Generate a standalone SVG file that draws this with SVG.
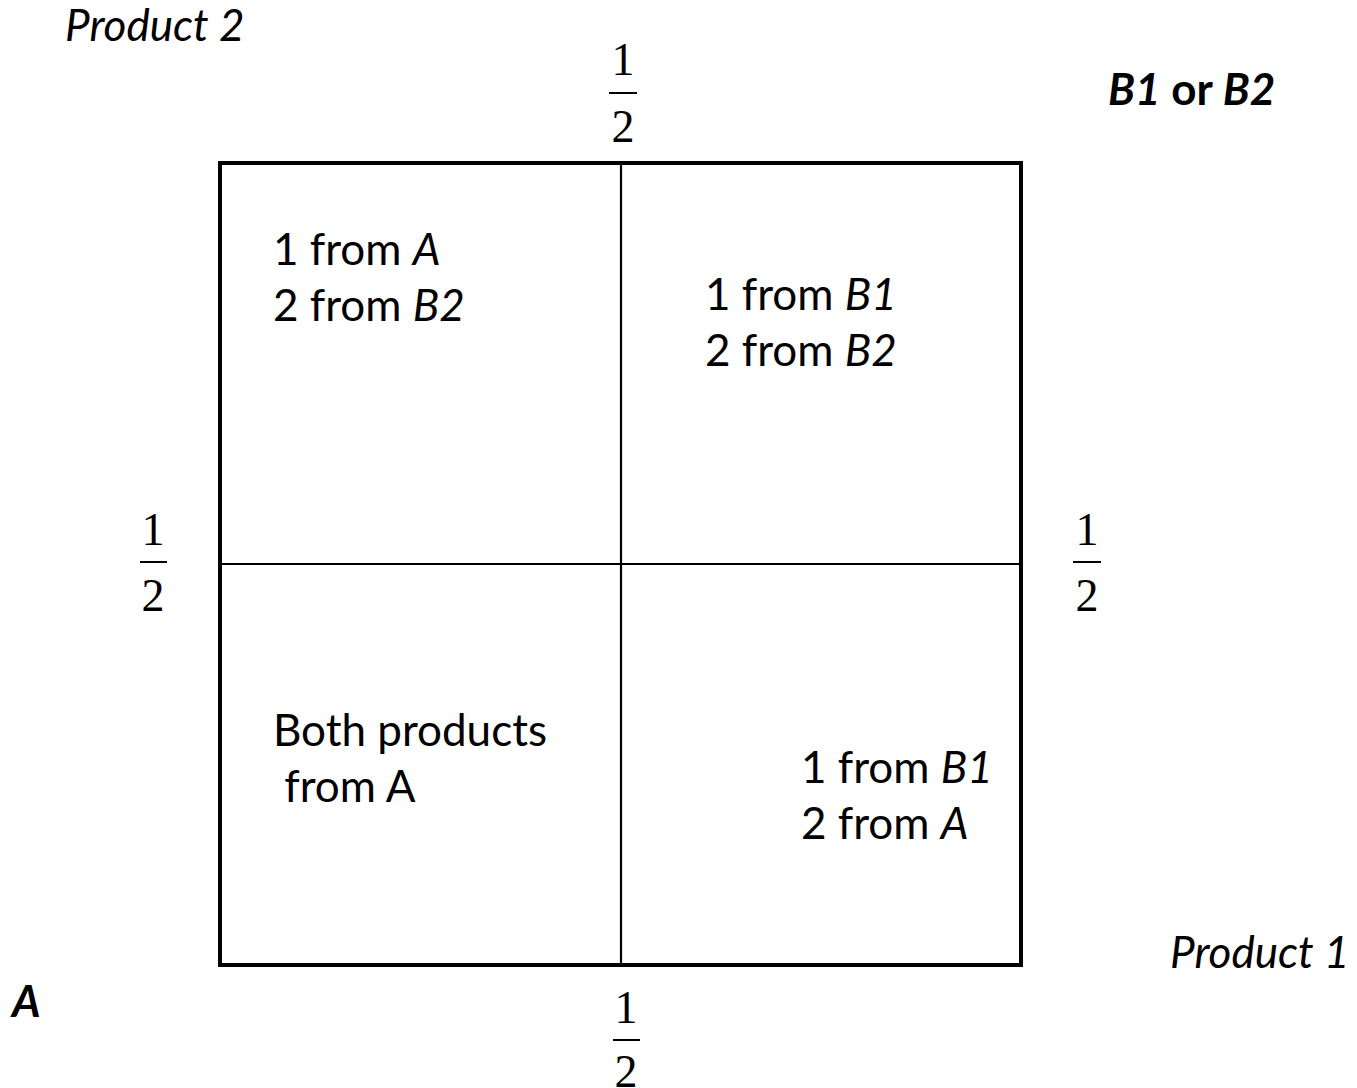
<svg xmlns="http://www.w3.org/2000/svg" width="1357" height="1088" viewBox="0 0 1357 1088">
<style>
.t{font-family:Lato,"Open Sans","Liberation Sans",sans-serif;font-size:44px;fill:#000}
.f{font-family:"Liberation Serif","Times New Roman",serif;font-size:46px;fill:#000;text-anchor:middle}
.fl{stroke:#000;stroke-width:2}
.it{font-style:italic}
.b{font-weight:bold}
</style>
<rect width="1357" height="1088" fill="#fff"/>
<g id="grid">
<rect x="220" y="163" width="801" height="802" fill="none" stroke="#000" stroke-width="4"/>
<line x1="621" y1="163" x2="621" y2="965" stroke="#000" stroke-width="2.2"/>
<line x1="220" y1="564" x2="1021" y2="564" stroke="#000" stroke-width="2.2"/>
</g>
<g id="cell-tl"><text class="t" x="273" y="265">1 from <tspan class="it">A</tspan></text><text class="t" x="273" y="321">2 from <tspan class="it">B2</tspan></text></g>
<g id="cell-tr"><text class="t" x="705" y="310">1 from <tspan class="it">B1</tspan></text><text class="t" x="705" y="366">2 from <tspan class="it">B2</tspan></text></g>
<g id="cell-bl"><text class="t" x="273" y="746">Both products</text><text class="t" x="273" y="802" xml:space="preserve"> from A</text></g>
<g id="cell-br"><text class="t" x="801" y="783">1 from <tspan class="it">B1</tspan></text><text class="t" x="801" y="839">2 from <tspan class="it">A</tspan></text></g>
<g id="frac-top"><text class="f" x="623" y="75">1</text><line class="fl" x1="609" y1="93" x2="637" y2="93"/><text class="f" x="623" y="142">2</text></g>
<g id="frac-left"><text class="f" x="153" y="545">1</text><line class="fl" x1="140" y1="562" x2="167" y2="562"/><text class="f" x="153" y="611">2</text></g>
<g id="frac-right"><text class="f" x="1087" y="545">1</text><line class="fl" x1="1073" y1="562" x2="1101" y2="562"/><text class="f" x="1087" y="611">2</text></g>
<g id="frac-bottom"><text class="f" x="626" y="1023">1</text><line class="fl" x1="613" y1="1040" x2="640" y2="1040"/><text class="f" x="626" y="1087">2</text></g>
<g id="labels">
<text class="t it" x="65" y="41" font-size="45">Product 2</text>
<text class="t b" x="1108" y="105" font-size="43"><tspan class="it">B1</tspan> or <tspan class="it">B2</tspan></text>
<text class="t it" x="1170" y="968" font-size="45">Product 1</text>
<text class="t b it" x="12" y="1017">A</text>
</g>
</svg>
